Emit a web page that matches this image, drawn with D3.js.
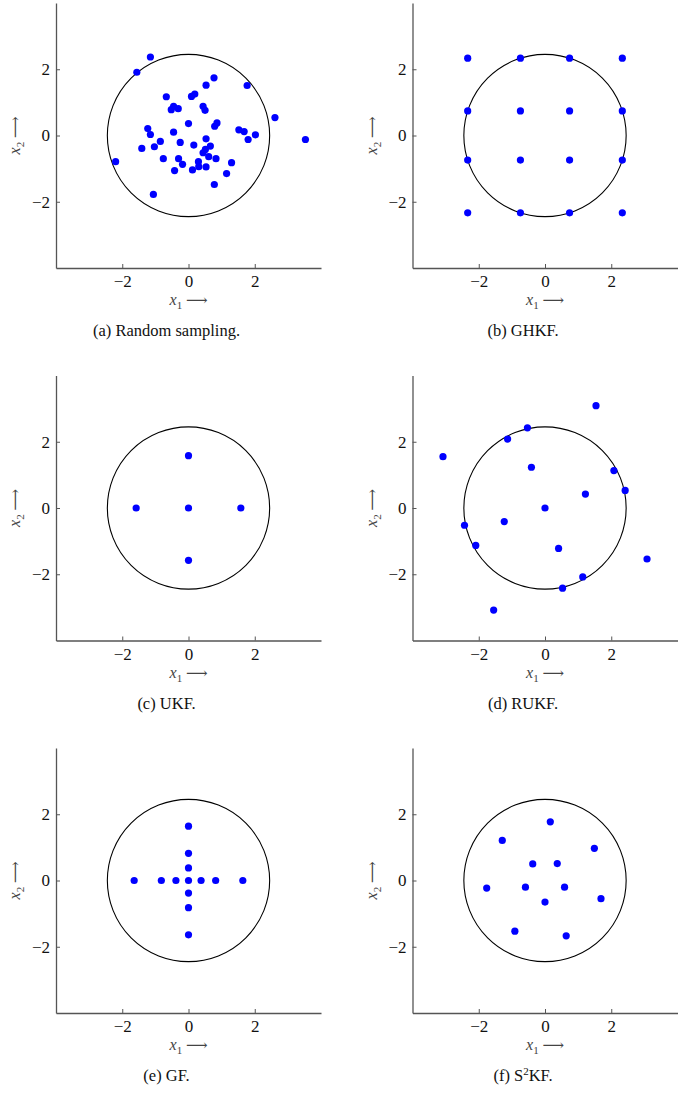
<!DOCTYPE html>
<html>
<head>
<meta charset="utf-8">
<script src="https://cdn.jsdelivr.net/npm/d3@7"></script>
<style>
  body { margin: 0; background: #fff; }
  svg { display: block; }
  text { font-family: "Liberation Serif", "Times New Roman", "DejaVu Serif", serif; }
</style>
</head>
<body>
<div id="chart"></div>
<script>
// sample points for each panel, [x1, x2]
const randomPts = [
  [-1.15, 2.37], [-1.56, 1.91], [0.77, 1.74], [1.77, 1.51], [0.53, 1.52],
  [0.09, 1.18], [0.19, 1.25], [-0.67, 1.17], [-0.52, 0.78], [-0.45, 0.88],
  [-0.31, 0.81], [0.44, 0.88], [0.50, 0.76], [2.61, 0.54], [0.00, 0.36],
  [0.86, 0.38], [0.79, 0.28], [-1.23, 0.21], [-1.15, 0.03], [-0.45, 0.10],
  [1.52, 0.17], [1.68, 0.12], [2.02, 0.02], [1.80, -0.12], [3.53, -0.12],
  [0.53, -0.10], [-1.41, -0.39], [-1.03, -0.34], [-0.85, -0.18], [-0.25, -0.21],
  [0.16, -0.29], [0.66, -0.32], [0.51, -0.42], [0.44, -0.52], [0.61, -0.64],
  [0.83, -0.70], [-0.76, -0.70], [-0.30, -0.70], [-0.18, -0.87], [0.30, -0.79],
  [0.31, -0.94], [0.53, -0.95], [-0.42, -1.06], [0.12, -1.04], [1.30, -0.82],
  [1.15, -1.15], [-2.20, -0.79], [0.78, -1.48], [-1.06, -1.78]
];
const ghkfPts = [
  [-2.334, 2.334], [-0.742, 2.334], [0.742, 2.334], [2.334, 2.334],
  [-2.334, 0.742], [-0.742, 0.742], [0.742, 0.742], [2.334, 0.742],
  [-2.334, -0.742], [-0.742, -0.742], [0.742, -0.742], [2.334, -0.742],
  [-2.334, -2.334], [-0.742, -2.334], [0.742, -2.334], [2.334, -2.334]
];
const ukfPts = [[0, 0], [1.58, 0], [-1.58, 0], [0, 1.58], [0, -1.58]];
const rukfPts = [
  [1.54, 3.09], [-0.53, 2.42], [-1.13, 2.08], [-3.08, 1.55], [-0.41, 1.23],
  [2.08, 1.13], [2.42, 0.53], [1.22, 0.42], [0, 0], [-1.23, -0.41],
  [-2.43, -0.52], [-2.09, -1.13], [0.41, -1.22], [3.08, -1.54], [1.14, -2.08],
  [0.53, -2.42], [-1.55, -3.08]
];
const gfPts = [
  [0, 0], [-1.64, 0], [-0.82, 0], [-0.38, 0], [0.38, 0], [0.82, 0], [1.64, 0],
  [0, 1.64], [0, 0.82], [0, 0.38], [0, -0.38], [0, -0.82], [0, -1.64]
];
const s2kfPts = [
  [0.16, 1.77], [-1.29, 1.21], [1.49, 0.97], [-0.37, 0.50], [0.37, 0.51],
  [-1.76, -0.23], [-0.59, -0.20], [0.59, -0.20], [1.69, -0.55], [0.00, -0.65],
  [-0.91, -1.53], [0.64, -1.67]
];
const captions = ["(a) Random sampling.", "(b) GHKF.", "(c) UKF.", "(d) RUKF.", "(e) GF.", null];
const circleRadius = 2.45;
const tickValues = [-2, 0, 2];
const domain = [-4, 4];

const panels = [randomPts, ghkfPts, ukfPts, rukfPts, gfPts, s2kfPts];

const width = 697, height = 1094;
const size = 265;
const colX = [56, 412.5];
const rowY = [3, 375.5, 748];
const serif = "'Liberation Serif', 'Times New Roman', serif";

const svg = d3.select("#chart").append("svg")
  .attr("width", width)
  .attr("height", height);

const fmt = d => d < 0 ? "\u2212" + Math.abs(d) : d;

// x_n with a long arrow, as in the latex labels
function axisLabel(sel, sub) {
  sel.append("tspan").style("font-style", "italic").text("x");
  sel.append("tspan").attr("dy", 4).style("font-size", "11px").text(sub);
  sel.append("tspan").attr("dy", -4).style("font-size", "15px").text(" \u27F6");
}

panels.forEach((pts, i) => {
  const left = colX[i % 2];
  const top = rowY[Math.floor(i / 2)];

  const x = d3.scaleLinear().domain(domain).range([left, left + size]);
  const y = d3.scaleLinear().domain(domain).range([top + size, top]);

  const g = svg.append("g");

  // axes, matlab style: ticks inside
  const xAxis = g.append("g")
    .attr("transform", `translate(0,${top + size})`)
    .call(d3.axisBottom(x).tickValues(tickValues).tickSizeInner(-4).tickSizeOuter(0)
      .tickPadding(0).tickFormat(fmt));
  const yAxis = g.append("g")
    .attr("transform", `translate(${left},0)`)
    .call(d3.axisLeft(y).tickValues(tickValues).tickSizeInner(-4).tickSizeOuter(0)
      .tickPadding(6).tickFormat(fmt));

  [xAxis, yAxis].forEach(a => {
    a.attr("font-family", serif).attr("font-size", 17);
    a.select(".domain").attr("stroke", "#555").attr("stroke-width", 1.3);
    a.selectAll(".tick line").attr("stroke", "#555").attr("stroke-width", 1);
    a.selectAll(".tick text").attr("fill", "#111");
  });
  xAxis.selectAll(".tick text").attr("y", 19).attr("dy", null);

  // circle
  g.append("circle")
    .attr("cx", x(0))
    .attr("cy", y(0))
    .attr("r", x(circleRadius) - x(0))
    .attr("fill", "none")
    .attr("stroke", "#000")
    .attr("stroke-width", 1.1);

  // points
  g.selectAll(".pt")
    .data(pts)
    .enter()
    .append("circle")
    .attr("cx", d => x(d[0]))
    .attr("cy", d => y(d[1]))
    .attr("r", 3.6)
    .attr("fill", "#0000ff");

  // x label
  const xl = g.append("text")
    .attr("x", x(0))
    .attr("y", top + size + 37)
    .attr("text-anchor", "middle")
    .attr("fill", "#444")
    .style("font-size", "16px");
  axisLabel(xl, "1");

  // y label
  const yl = g.append("text")
    .attr("transform", `translate(${left - 36},${y(0)}) rotate(-90)`)
    .attr("text-anchor", "middle")
    .attr("fill", "#444")
    .style("font-size", "16px");
  axisLabel(yl, "2");

  // caption
  const cap = g.append("text")
    .attr("x", left + size / 2 - 22)
    .attr("y", top + size + 68)
    .attr("text-anchor", "middle")
    .attr("fill", "#111")
    .style("font-size", "16.5px");
  if (captions[i]) {
    cap.text(captions[i]);
  } else {
    cap.append("tspan").text("(f) S");
    cap.append("tspan").attr("dy", -6).style("font-size", "11px").text("2");
    cap.append("tspan").attr("dy", 6).text("KF.");
  }
});
</script>
</body>
</html>
